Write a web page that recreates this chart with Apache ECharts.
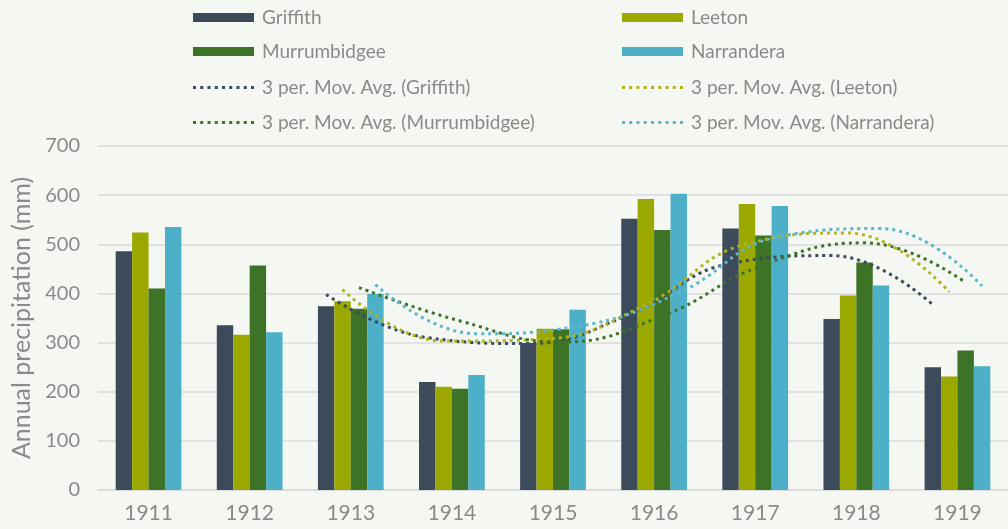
<!DOCTYPE html>
<html>
<head>
<meta charset="utf-8">
<script src="https://cdn.jsdelivr.net/npm/echarts@6/dist/echarts.min.js"></script>
<style>
  html, body { margin: 0; padding: 0; background: #f4f7f2; }
  #chart { width: 1008px; height: 529px; }
</style>
</head>
<body>
<div id="chart"></div>
<script>
// Annual precipitation (mm) by town, 1911-1919
const years = ['1911', '1912', '1913', '1914', '1915', '1916', '1917', '1918', '1919'];
const griffith     = [486, 335, 374, 220, 299, 552, 532, 348, 250];
const leeton       = [524, 316, 384, 210, 328, 592, 582, 396, 231];
const murrumbidgee = [410, 457, 369, 206, 327, 529, 518, 463, 284];
const narrandera   = [535, 321, 399, 234, 367, 603, 578, 416, 252];

// 3-period moving averages, 1913-1919
const maYears = ['1913', '1914', '1915', '1916', '1917', '1918', '1919'];
const maGriffith     = [398, 310, 298, 357, 461, 477, 377];
const maLeeton       = [408, 303, 307, 377, 501, 523, 403];
const maMurrumbidgee = [412, 344, 301, 354, 458, 503, 422];
const maNarrandera   = [418, 318, 333, 401, 516, 532, 415];

const yTicks = [0, 100, 200, 300, 400, 500, 600, 700];

const names = ['Griffith', 'Leeton', 'Murrumbidgee', 'Narrandera'];
const colors = ['#3d4a5a', '#9aa800', '#3d7326', '#4eb0c8'];
const maColors = ['#3d4a5a', '#b2b31a', '#3d7326', '#5ab7cc'];
const barSeriesData = [griffith, leeton, murrumbidgee, narrandera];
const maSeriesData = [maGriffith, maLeeton, maMurrumbidgee, maNarrandera];

const FONT = 'Lato';
const GREY = '#8a8a8a';

// clustered bar layout: 4 bars, no gap, 35% category gap
const catGap = 0.35;
const barW = (1 - catGap) / 4;

const series = [];
barSeriesData.forEach((d, k) => {
  series.push({
    name: names[k],
    type: 'bar',
    xAxisIndex: 0,
    data: d,
    barGap: '0%',
    barCategoryGap: (catGap * 100) + '%',
    itemStyle: { color: colors[k] },
    z: 2
  });
});
// trend lines sit over their own bar in each cluster
maSeriesData.forEach((d, k) => {
  const offset = (k - 1.5) * barW;
  series.push({
    name: '3 per. Mov. Avg. (' + names[k] + ')',
    type: 'line',
    xAxisIndex: 1,
    smooth: 0.45,
    symbol: 'none',
    data: d.map((v, i) => [years.indexOf(maYears[i]) + offset, v]),
    lineStyle: { color: maColors[k], width: 3, type: [3, 4], cap: 'butt' },
    itemStyle: { color: maColors[k] },
    z: 3
  });
});

// dotted legend swatch: a row of small squares
const dotIcon = 'path://' + Array.from({ length: 9 }, (_, i) => {
  const x = (i * 7.25).toFixed(2);
  return 'M' + x + ',0h3v3h-3z';
}).join(' ');

// legend: two columns, four rows
const legendCols = [193, 622];
const legendRows = [8, 42, 78, 113];
const legendOrder = [
  names[0], names[1], names[2], names[3],
  '3 per. Mov. Avg. (Griffith)', '3 per. Mov. Avg. (Leeton)',
  '3 per. Mov. Avg. (Murrumbidgee)', '3 per. Mov. Avg. (Narrandera)'
];
const legends = legendOrder.map((n, i) => ({
  data: [n],
  left: legendCols[i % 2],
  top: legendRows[Math.floor(i / 2)],
  padding: 0,
  orient: 'horizontal',
  itemWidth: 61,
  itemHeight: i < 4 ? 9 : 3,
  itemGap: 0,
  icon: i < 4 ? 'rect' : dotIcon,
  selectedMode: false,
  textStyle: { fontFamily: FONT, fontSize: 19, color: GREY, padding: [0, 0, 0, 3] }
}));

const chart = echarts.init(document.getElementById('chart'), null, { renderer: 'canvas' });
chart.setOption({
  backgroundColor: '#f4f7f2',
  animation: false,
  legend: legends,
  grid: { left: 98, right: -3, top: 146, bottom: 39, containLabel: false },
  xAxis: [
    {
      type: 'category',
      data: years,
      axisTick: { show: false },
      axisLine: { lineStyle: { color: '#dadada', width: 1.5 } },
      axisLabel: { fontFamily: FONT, fontSize: 21, color: GREY, margin: 13 }
    },
    {
      type: 'value',
      min: -0.5,
      max: years.length - 0.5,
      show: false
    }
  ],
  yAxis: {
    type: 'value',
    min: yTicks[0],
    max: yTicks[yTicks.length - 1],
    interval: 100,
    name: 'Annual precipitation (mm)',
    nameLocation: 'middle',
    nameGap: 64,
    nameTextStyle: { fontFamily: FONT, fontSize: 25, color: GREY },
    axisLine: { show: false },
    axisTick: { show: false },
    axisLabel: { fontFamily: FONT, fontSize: 20, color: GREY, margin: 18 },
    splitLine: { lineStyle: { color: '#dadada', width: 1.5 } }
  },
  series: series
});
</script>
</body>
</html>
